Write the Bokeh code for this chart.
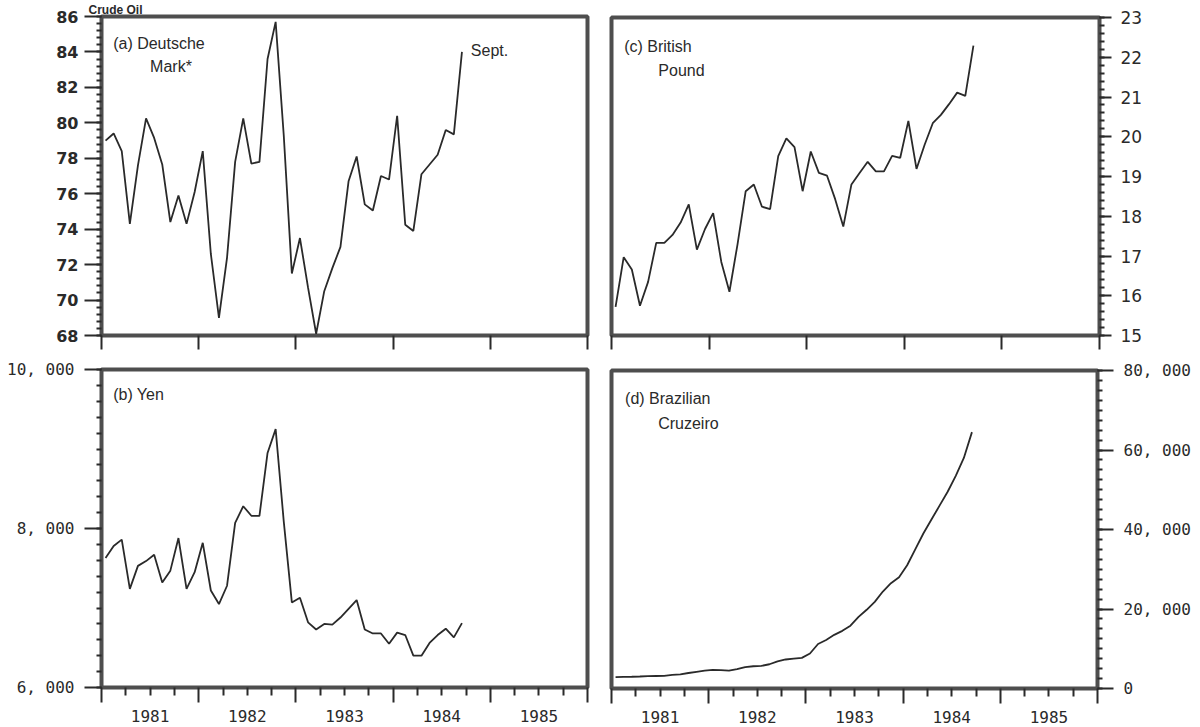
from bokeh.plotting import figure
from bokeh.models import LinearAxis, FixedTicker, Range1d, Label, CustomLabelingPolicy
from bokeh.layouts import row, column
from bokeh.embed import file_html
from bokeh.resources import INLINE

# ---------------- data (monthly, Jan 1981 - Sept 1984) ----------------
months = [f"{y}-{m:02d}" for y in (1981, 1982, 1983) for m in range(1, 13)] + \
         [f"1984-{m:02d}" for m in range(1, 10)]

deutsche_mark = [79.0, 79.4, 78.4, 74.3, 77.6, 80.25, 79.15, 77.65, 74.4, 75.9, 74.3, 76.1,
                 78.4, 72.6, 69.0, 72.4, 77.8, 80.25, 77.7, 77.8, 83.6, 85.7, 79.3, 71.5,
                 73.5, 70.7, 68.1, 70.5, 71.8, 73.0, 76.7, 78.1, 75.4, 75.05, 77.0, 76.8,
                 80.4, 74.25, 73.9, 77.1, 77.65, 78.2, 79.6, 79.35, 84.0]

yen = [7630, 7780, 7860, 7240, 7530, 7590, 7670, 7320, 7470, 7880, 7240, 7450,
       7820, 7220, 7050, 7280, 8070, 8280, 8160, 8160, 8950, 9250, 8090, 7070,
       7130, 6820, 6730, 6800, 6790, 6880, 6990, 7100, 6730, 6680, 6680, 6550,
       6690, 6660, 6400, 6400, 6560, 6660, 6740, 6630, 6810]

british_pound = [15.72, 16.97, 16.66, 15.75, 16.35, 17.33, 17.33, 17.53, 17.84, 18.30, 17.16, 17.68,
                 18.08, 16.85, 16.10, 17.30, 18.63, 18.80, 18.24, 18.18, 19.51, 19.96, 19.74, 18.63,
                 19.63, 19.09, 19.02, 18.43, 17.74, 18.80, 19.09, 19.37, 19.13, 19.13, 19.52, 19.47,
                 20.40, 19.19, 19.80, 20.34, 20.55, 20.82, 21.11, 21.03, 22.29]

cruzeiro = [2850, 2900, 2950, 3020, 3100, 3150, 3200, 3450, 3550, 3900, 4200, 4500,
            4700, 4600, 4500, 4900, 5400, 5600, 5700, 6100, 6800, 7300, 7500, 7700,
            8800, 11200, 12200, 13500, 14500, 15800, 18000, 19800, 21800, 24400, 26500, 28000,
            31000, 35000, 39000, 42500, 46000, 49500, 53500, 58000, 64500]

years = [1981, 1982, 1983, 1984, 1985]
year_labels = ["1981", "1982", "1983", "1984", "1985"]

# decimal year at mid-month
xdec = [int(s[:4]) + (int(s[5:]) - 0.5) / 12 for s in months]

INK = "#2a2a2a"
BOX = "#4e4e4e"
MONO = "DejaVu Sans Mono"
LABEL_FONT = "Liberation Sans"


def base_fig(yr, fw, fh, left, right, top, bottom):
    p = figure(frame_width=fw, frame_height=fh,
               x_range=Range1d(1981, 1986), y_range=Range1d(*yr),
               x_axis_location=None, y_axis_location=None,
               output_backend="svg", toolbar_location=None,
               min_border_left=left, min_border_right=right,
               min_border_top=top, min_border_bottom=bottom,
               background_fill_color="white", border_fill_color="white")
    p.grid.grid_line_color = None
    p.outline_line_color = BOX
    p.outline_line_width = 4
    p.outline_line_alpha = 1.0
    return p


def x_tick_axis(p, with_minor, tick_len):
    minor = [y + q for y in range(1981, 1986) for q in (0.25, 0.5, 0.75)] if with_minor else []
    ax = LinearAxis(ticker=FixedTicker(ticks=list(range(1981, 1987)), minor_ticks=minor),
                    axis_line_color=None,
                    major_tick_out=tick_len, major_tick_in=0,
                    minor_tick_out=8, minor_tick_in=0,
                    major_tick_line_color=INK, major_tick_line_width=2,
                    minor_tick_line_color=INK, minor_tick_line_width=2,
                    major_label_text_font_size="1px", major_label_standoff=0,
                    major_label_policy=CustomLabelingPolicy(
                        code="for (const i of indices) { indices.unset(i) }\nreturn indices"))
    p.add_layout(ax, "below")


def x_label_axis(p):
    mids = [y + 0.5 for y in years]
    ax = LinearAxis(ticker=FixedTicker(ticks=mids, minor_ticks=[]),
                    major_label_overrides={m: l for m, l in zip(mids, year_labels)},
                    axis_line_color=None, major_tick_line_color=None,
                    major_tick_out=0, major_tick_in=0, minor_tick_out=0, minor_tick_in=0,
                    major_label_standoff=3,
                    major_label_text_font=MONO, major_label_text_font_size="16px",
                    major_label_text_color=INK)
    p.add_layout(ax, "below")


def y_axis(p, side, ticks, minor, out, standoff, overrides=None, font=MONO,
           style="normal", size="16px"):
    ax = LinearAxis(ticker=FixedTicker(ticks=ticks, minor_ticks=minor),
                    axis_line_color=None,
                    major_tick_out=out, major_tick_in=0,
                    minor_tick_out=5, minor_tick_in=0,
                    major_tick_line_color=INK, major_tick_line_width=2,
                    minor_tick_line_color=INK, minor_tick_line_width=2,
                    major_label_standoff=standoff,
                    major_label_text_font=font, major_label_text_font_style=style,
                    major_label_text_font_size=size, major_label_text_color=INK)
    if overrides:
        ax.major_label_overrides = overrides
    p.add_layout(ax, side)


def panel_text(p, x, y, text, size="16px"):
    p.add_layout(Label(x=x, y=y, text=text, text_font=LABEL_FONT, text_font_size=size,
                       text_color=INK, text_baseline="alphabetic"))


# ---------------- (a) Deutsche Mark ----------------
pa = base_fig((68, 86), 486, 319, 101, 12, 16, 16)
pa.title.text = "Crude Oil"
pa.title.text_font = LABEL_FONT
pa.title.text_font_style = "bold"
pa.title.text_font_size = "12px"
pa.title.text_color = INK
pa.title.standoff = 0
pa.title.align = "left"
pa.title.offset = -13
pa.line(xdec, deutsche_mark, line_color=INK, line_width=1.8)
y_axis(pa, "left", list(range(68, 87, 2)), [68 + 0.4 * i for i in range(46)], 17, 6,
       font="DejaVu Sans", style="bold", size="16px")
x_tick_axis(pa, False, 14)
panel_text(pa, 1981.12, 84.48, "(a) Deutsche")
panel_text(pa, 1981.5, 83.2, "Mark*")
panel_text(pa, 1984.80, 84.1, "Sept.")

# ---------------- (b) Yen ----------------
pb = base_fig((6000, 10000), 486, 318, 101, 12, 16, 30)
pb.line(xdec, yen, line_color=INK, line_width=1.8)
y_axis(pb, "left", [6000, 8000, 10000], [6000 + 200 * i for i in range(21)], 17, 10,
       overrides={6000: "6, 000", 8000: "8, 000", 10000: "10, 000"}, size="16px")
x_tick_axis(pb, True, 15)
x_label_axis(pb)
panel_text(pb, 1981.12, 9690, "(b) Yen")

# ---------------- (c) British Pound ----------------
pc = base_fig((15, 23), 488, 318, 12, 95, 17, 16)
pc.line(xdec, british_pound, line_color=INK, line_width=1.8)
y_axis(pc, "right", list(range(15, 24)), [15 + 0.2 * i for i in range(41)], 12, 9,
       font="DejaVu Sans", size="17px")
x_tick_axis(pc, False, 14)
panel_text(pc, 1981.13, 22.27, "(c) British")
panel_text(pc, 1981.48, 21.67, "Pound")

# ---------------- (d) Brazilian Cruzeiro ----------------
pd_ = base_fig((0, 80000), 486, 318, 12, 95, 17, 28)
pd_.line(xdec, cruzeiro, line_color=INK, line_width=1.8)
y_axis(pd_, "right", [0, 20000, 40000, 60000, 80000], [2500 * i for i in range(33)], 16, 10,
       overrides={0: "0", 20000: "20, 000", 40000: "40, 000", 60000: "60, 000",
                  80000: "80, 000"}, size="16px")
x_tick_axis(pd_, True, 15)
x_label_axis(pd_)
panel_text(pd_, 1981.14, 73000, "(d) Brazilian")
panel_text(pd_, 1981.48, 66750, "Cruzeiro")

layout = row(column(pa, pb), column(pc, pd_))
open("out.html", "w").write(file_html(layout, INLINE))
